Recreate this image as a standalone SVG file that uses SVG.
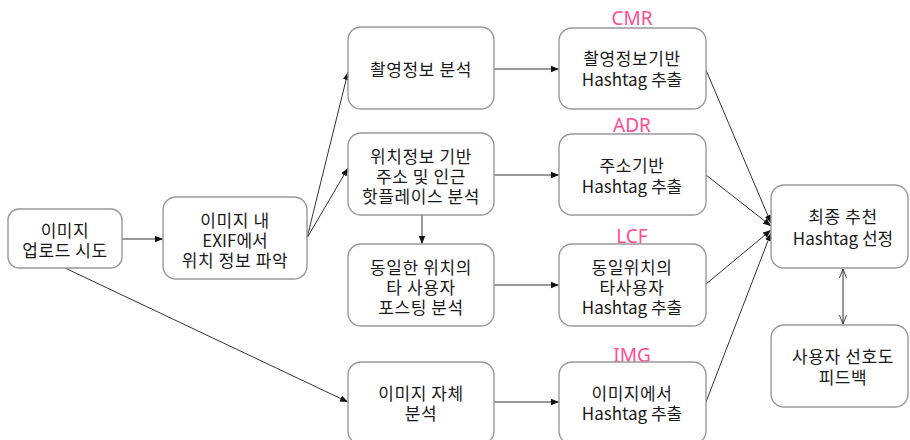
<svg xmlns="http://www.w3.org/2000/svg" width="910" height="440" viewBox="0 0 910 440">
<style>
.box{fill:#fff;stroke:#999;stroke-width:1.4}
.t{font-family:"Malgun Gothic","Noto Sans CJK KR","Noto Sans",sans-serif;font-size:17px;fill:#1a1a1a;text-anchor:middle;dominant-baseline:central}
.k{letter-spacing:0.6px}
.lab{font-family:"Noto Sans","Noto Sans CJK KR",sans-serif;font-size:19px;fill:#ff4d94;text-anchor:middle;dominant-baseline:central}
.c{stroke:#333;stroke-width:1;fill:none}
</style>
<defs>
<marker id="ah" viewBox="0 0 10 10" refX="10" refY="5" markerWidth="8" markerHeight="8" markerUnits="userSpaceOnUse" orient="auto-start-reverse">
<path d="M0,1 L10,5 L0,9 z" fill="#111"/>
</marker>
<marker id="oh" viewBox="0 0 10 10" refX="10" refY="5" markerWidth="9" markerHeight="9" markerUnits="userSpaceOnUse" orient="auto-start-reverse">
<path d="M0,1 L10,5 L0,9" fill="none" stroke="#333" stroke-width="1"/>
</marker>
</defs>
<rect width="910" height="440" fill="#fff"/>
<g id="connectors">
<line class="c" x1="122" y1="239" x2="163" y2="239" marker-end="url(#ah)"/>
<line class="c" x1="65" y1="268" x2="348" y2="402" marker-end="url(#ah)"/>
<line class="c" x1="307" y1="238" x2="348" y2="72" marker-end="url(#ah)"/>
<line class="c" x1="307" y1="238" x2="348" y2="168" marker-end="url(#ah)"/>
<line class="c" x1="422" y1="215" x2="422" y2="244" marker-end="url(#ah)"/>
<line class="c" x1="494" y1="69" x2="559" y2="69" marker-end="url(#ah)"/>
<line class="c" x1="494" y1="175" x2="559" y2="175" marker-end="url(#ah)"/>
<line class="c" x1="494" y1="285" x2="559" y2="285" marker-end="url(#ah)"/>
<line class="c" x1="494" y1="402" x2="559" y2="402" marker-end="url(#ah)"/>
<line class="c" x1="706" y1="70" x2="771" y2="223" marker-end="url(#ah)"/>
<line class="c" x1="706" y1="175" x2="771" y2="226" marker-end="url(#ah)"/>
<line class="c" x1="706" y1="284" x2="771" y2="230" marker-end="url(#ah)"/>
<line class="c" x1="706" y1="402" x2="771" y2="233" marker-end="url(#ah)"/>
<line class="c" x1="843" y1="269" x2="843" y2="324" marker-start="url(#oh)" marker-end="url(#oh)"/>
</g>
<g id="upload"><rect class="box" x="8" y="209" width="114" height="59" rx="11"/>
<text class="t k" x="65" y="229">이미지</text><text class="t k" x="65" y="249">업로드 시도</text></g>
<g id="exif"><rect class="box" x="163" y="197" width="144" height="82" rx="13"/>
<text class="t k" x="235" y="219">이미지 내</text><text class="t" x="235" y="239">EXIF에서</text><text class="t k" x="235" y="259">위치 정보 파악</text></g>
<g id="shoot"><rect class="box" x="348" y="27" width="146" height="82" rx="13"/>
<text class="t k" x="421" y="68">촬영정보 분석</text></g>
<g id="loc"><rect class="box" x="348" y="133" width="146" height="82" rx="13"/>
<text class="t k" x="421" y="155">위치정보 기반</text><text class="t k" x="421" y="175">주소 및 인근</text><text class="t k" x="421" y="195">핫플레이스 분석</text></g>
<g id="same"><rect class="box" x="348" y="244" width="146" height="82" rx="13"/>
<text class="t k" x="421" y="266">동일한 위치의</text><text class="t k" x="421" y="286">타 사용자</text><text class="t k" x="421" y="306">포스팅 분석</text></g>
<g id="self"><rect class="box" x="348" y="362" width="146" height="82" rx="13"/>
<text class="t k" x="421" y="392">이미지 자체</text><text class="t k" x="421" y="412">분석</text></g>
<g id="cmr"><text class="lab" x="632" y="18">CMR</text><rect class="box" x="559" y="28" width="147" height="81" rx="13"/>
<text class="t k" x="632" y="57">촬영정보기반</text><text class="t" x="632" y="78">Hashtag 추출</text></g>
<g id="adr"><text class="lab" x="632" y="125">ADR</text><rect class="box" x="559" y="134" width="147" height="81" rx="13"/>
<text class="t k" x="632" y="164">주소기반</text><text class="t" x="632" y="185">Hashtag 추출</text></g>
<g id="lcf"><text class="lab" x="632" y="236">LCF</text><rect class="box" x="559" y="244" width="147" height="82" rx="13"/>
<text class="t k" x="632" y="266">동일위치의</text><text class="t k" x="632" y="286">타사용자</text><text class="t" x="632" y="306">Hashtag 추출</text></g>
<g id="img"><text class="lab" x="632" y="355">IMG</text><rect class="box" x="559" y="362" width="147" height="82" rx="13"/>
<text class="t k" x="632" y="392">이미지에서</text><text class="t" x="632" y="412">Hashtag 추출</text></g>
<g id="final"><rect class="box" x="771" y="185" width="137" height="83" rx="13"/>
<text class="t k" x="843" y="215">최종 추천</text><text class="t" x="843" y="237">Hashtag 선정</text></g>
<g id="pref"><rect class="box" x="771" y="325" width="137" height="82" rx="13"/>
<text class="t k" x="843" y="355">사용자 선호도</text><text class="t k" x="843" y="376">피드백</text></g>
</svg>
